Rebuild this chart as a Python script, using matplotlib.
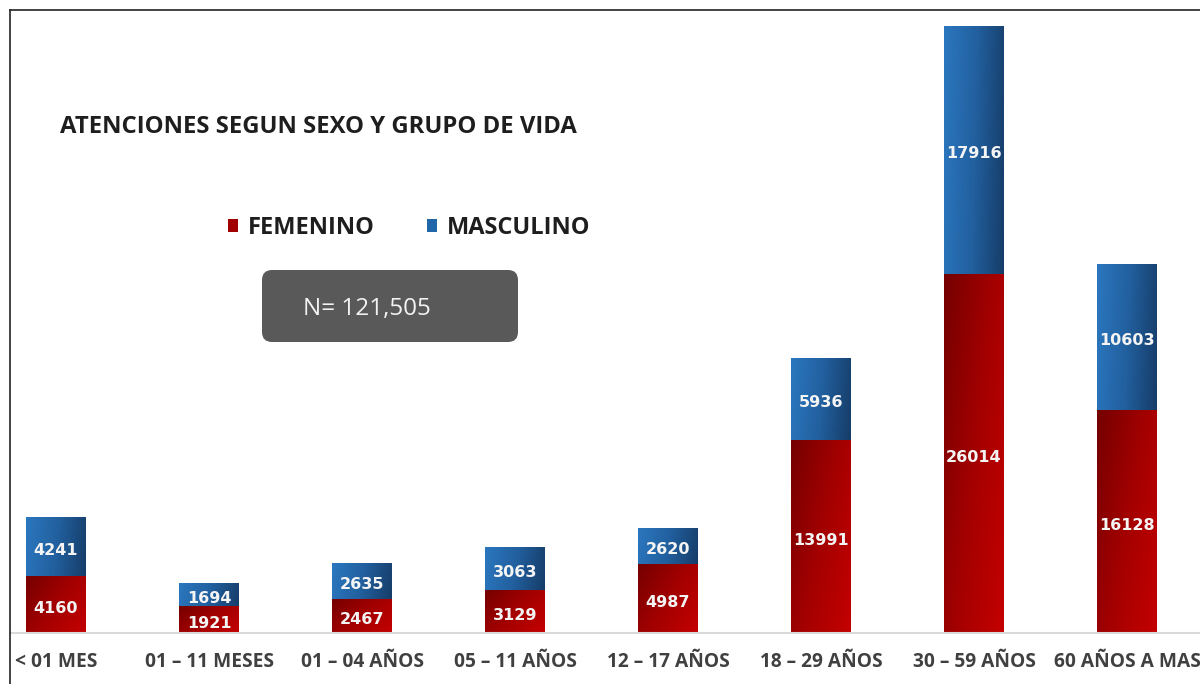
import numpy as np
import matplotlib
matplotlib.use('Agg')
import matplotlib.pyplot as plt
from matplotlib.colors import LinearSegmentedColormap
from matplotlib.patches import FancyBboxPatch
from matplotlib.lines import Line2D
from matplotlib.transforms import offset_copy

# ---------------- data ----------------
categories = ['< 01 MES', '01 – 11 MESES', '01 – 04 AÑOS', '05 – 11 AÑOS',
              '12 – 17 AÑOS', '18 – 29 AÑOS', '30 – 59 AÑOS', '60 AÑOS A MAS']
femenino = [4160, 1921, 2467, 3129, 4987, 13991, 26014, 16128]
masculino = [4241, 1694, 2635, 3063, 2620, 5936, 17916, 10603]
series_labels = ['FEMENINO', 'MASCULINO']
title_text = 'ATENCIONES SEGUN SEXO Y GRUPO DE VIDA'
total_text = 'N= 121,505'

plt.rcParams['font.family'] = ['Open Sans', 'DejaVu Sans']

W, H, DPI = 1200, 684, 100
fig = plt.figure(figsize=(W / DPI, H / DPI), dpi=DPI)
fig.patch.set_facecolor('white')

# axes: baseline at y=633 px, left edge at x=10 px
ax = fig.add_axes([10 / W, (H - 633) / H, (W - 10) / W, (633 - 10) / H])
ax.set_facecolor('none')

x = np.arange(len(categories))
bw = 0.39
red_cmap = LinearSegmentedColormap.from_list('r', ['#750000', '#a30000', '#c40000'])
blue_cmap = LinearSegmentedColormap.from_list('b', ['#2b77bf', '#22609f', '#163d69'])

bars_f = ax.bar(x, femenino, width=bw, color='#a00000', zorder=2, label=series_labels[0], linewidth=0)
bars_m = ax.bar(x, masculino, width=bw, bottom=femenino, color='#2266aa', zorder=2,
                label=series_labels[1], linewidth=0)

gx, gy = np.meshgrid(np.linspace(0, 1, 60), np.linspace(0, 1, 200))
grad_red = 0.6 * gx + 0.4 * gy          # dark top-left -> bright bottom-right
grad_blue = 0.9 * gx + 0.1 * gy         # lighter left -> darker right

for bars, cmap, grad in ((bars_f, red_cmap, grad_red), (bars_m, blue_cmap, grad_blue)):
    for p in bars:
        x0, y0 = p.get_x(), p.get_y()
        w, h = p.get_width(), p.get_height()
        im = ax.imshow(grad, cmap=cmap, vmin=0, vmax=1, aspect='auto',
                       extent=(x0, x0 + w, y0, y0 + h), origin='upper',
                       zorder=2.5, interpolation='bilinear')
        im.set_clip_path(p)

# data labels
lbl_tr = offset_copy(ax.transData, fig=fig, x=0, y=-4, units='dots')
for bars, vals in ((bars_f, femenino), (bars_m, masculino)):
    for p, v in zip(bars, vals):
        ax.text(p.get_x() + p.get_width() / 2, p.get_y() + p.get_height() / 2, f'{v}',
                ha='center', va='center', color='#f4f4f4', fontsize=11.5,
                fontweight='bold', family='DejaVu Sans', zorder=4, transform=lbl_tr)

total_max = max(f + m for f, m in zip(femenino, masculino))
ax.set_xlim((10 - 56) / 153, (1200 - 56) / 153)
ax.set_ylim(0, total_max * 623 / 607)

ax.set_xticks(x)
ax.set_xticklabels(categories, fontsize=13.8, fontweight='bold', color='#404040')
ax.tick_params(axis='x', length=0, pad=13.5)
ax.set_yticks([])
for s in ('top', 'right', 'left'):
    ax.spines[s].set_visible(False)
ax.spines['bottom'].set_color('#d9d9d9')
ax.spines['bottom'].set_linewidth(1.5)

# title
fig.text(60 / W, (H - 127) / H, title_text, ha='left', va='center',
         fontsize=17.2, fontweight='bold', color='#1e1e1e')

# legend
leg = ax.legend(handles=[bars_f, bars_m], labels=series_labels, ncol=2,
                loc='center left', bbox_to_anchor=(228 / W, (H - 228) / H),
                bbox_transform=fig.transFigure, frameon=False,
                prop={'weight': 'bold', 'size': 17},
                handlelength=0.42, handleheight=0.42, handletextpad=0.42,
                columnspacing=2.2, borderpad=0, borderaxespad=0)
for t in leg.get_texts():
    t.set_color('#1e1e1e')

# grey total box
box = FancyBboxPatch((2.62, (H - 342) / DPI), 2.56, 0.72,
                     boxstyle='round,pad=0,rounding_size=0.1',
                     transform=fig.dpi_scale_trans, facecolor='#595959',
                     edgecolor='none', zorder=5)
fig.patches.append(box)
fig.text(303 / W, (H - 309) / H, total_text, ha='left', va='center',
         fontsize=17.5, color='#f2f2f2', zorder=6)

# outer border (left and top)
fig.add_artist(Line2D([10 / W, 10 / W], [0, (H - 10) / H], transform=fig.transFigure,
                      color='#222222', linewidth=1.2))
fig.add_artist(Line2D([10 / W, 1], [(H - 10) / H, (H - 10) / H], transform=fig.transFigure,
                      color='#222222', linewidth=1.2))

fig.savefig('out.png', dpi=DPI)
